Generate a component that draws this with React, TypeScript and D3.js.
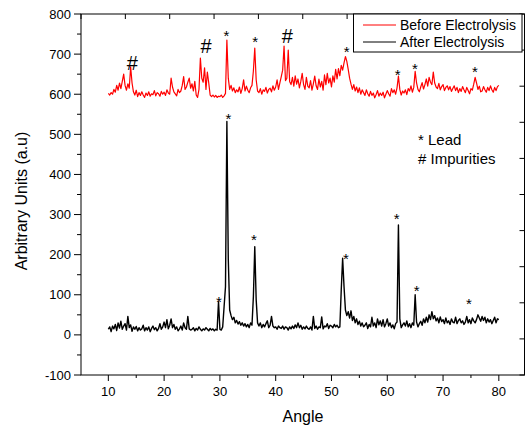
import React from "react";
import * as d3 from "d3";

// ---- data (angle grid: 10 to 80 in 0.25 degree steps) ----
const angleStart = 10;
const angleStep = 0.25;

const beforeElectrolysis: number[] = [
  602, 598, 604, 600, 612, 605, 622, 610, 628, 614, 632, 650, 622, 610, 626, 615,
  668, 628, 606, 598, 610, 594, 604, 597, 606, 598, 592, 603, 597, 606, 595, 601,
  599, 609, 596, 604, 601, 595, 607, 600, 605, 597, 611, 603, 600, 640, 618, 606,
  601, 596, 612, 604, 608, 622, 644, 612, 618, 630, 640, 615, 626, 608, 632, 598,
  592, 612, 690, 640, 630, 666, 612, 655, 628, 598, 594, 598, 593, 597, 592, 595,
  594, 598, 592, 596, 602, 735, 640, 612, 622, 608, 616, 604, 611, 606, 618, 602,
  614, 636, 608, 620, 610, 604, 616, 622, 658, 715, 636, 608, 604, 614, 600, 611,
  607, 617, 603, 612, 615, 606, 621, 610, 618, 636, 612, 628, 644, 660, 720, 634,
  640, 710, 632, 624, 642, 620, 646, 625, 638, 616, 632, 652, 624, 612, 642, 620,
  616, 634, 610, 626, 645, 621, 612, 638, 618, 632, 610, 648, 624, 652, 628, 640,
  618, 646, 630, 662, 638, 664, 646, 672, 660, 678, 694, 682, 662, 640, 625, 612,
  624, 608, 618, 604, 616, 600, 611, 604, 597, 611, 601, 595, 607, 597, 603, 591,
  599, 609, 595, 603, 597, 605, 591, 600, 609, 601, 595, 614, 604, 611, 600, 616,
  645, 612, 598, 608, 603, 611, 599, 614, 608, 621, 605, 617, 657, 628, 612, 606,
  618, 629, 613, 624, 638, 620, 642, 630, 624, 655, 628, 618, 614, 627, 611, 619,
  624, 609, 617, 621, 611, 619, 607, 614, 621, 609, 617, 604, 614, 607, 619, 611,
  604, 617, 609, 601, 614, 610, 625, 642, 628, 612, 620, 606, 608, 619, 611, 605,
  617, 609, 621, 611, 605, 617, 609, 619, 622,
];

const afterElectrolysis: number[] = [
  14, 20, 8, 22, 15, 26, 11, 30, 17, 34, 14, 22, 28, 12, 46, 18,
  25, 9, 20, 14, 21, 10, 18, 12, 15, 24, 10, 18, 12, 20, 8, 16,
  22, 13, 18, 10, 16, 28, 14, 20, 32, 18, 38, 15, 24, 40, 18, 26,
  14, 20, 10, 15, 22, 12, 30, 18, 14, 46, 15, 12, 14, 18, 10, 16,
  12, 20, 14, 10, 15, 12, 18, 14, 10, 16, 12, 15, 10, 14, 12, 83,
  14, 12, 20, 70, 120, 532, 190, 62, 48, 38, 44, 30, 36, 27, 33, 24,
  30, 22, 28, 20, 26, 18, 30, 24, 95, 220, 88, 30, 22, 30, 18, 26,
  20, 28, 35, 18, 24, 46, 22, 18, 20, 14, 22, 18, 16, 22, 14, 20,
  18, 12, 20, 15, 22, 16, 25, 18, 30, 18, 24, 14, 20, 15, 22, 16,
  14, 20, 12, 46, 16, 22, 14, 20, 18, 45, 15, 22, 20, 28, 16, 24,
  22, 18, 26, 20, 24, 18, 20, 112, 191, 120, 62, 48, 58, 42, 60, 36,
  46, 30, 40, 26, 34, 22, 30, 20, 24, 30, 16, 26, 20, 44, 22, 30,
  18, 40, 25, 35, 22, 38, 20, 28, 40, 22, 30, 18, 25, 15, 28, 32,
  274, 40, 18, 25, 30, 22, 35, 20, 28, 18, 30, 24, 100, 32, 20, 28,
  34, 24, 40, 30, 44, 32, 50, 38, 58, 40, 48, 35, 42, 30, 45, 33,
  38, 28, 42, 30, 35, 26, 40, 32, 30, 44, 28, 36, 40, 30, 35, 26,
  32, 46, 30, 38, 28, 42, 35, 30, 38, 50, 42, 34, 46, 36, 44, 30,
  40, 32, 38, 28, 36, 44, 30, 40, 38,
];

// peak markers (glyph centre, in data units)
const markAngles: number[] = [14.3, 27.5, 31.15, 36.3, 42.08, 52.72, 61.86, 64.96, 75.72,
  29.84, 31.51, 36.11, 52.6, 61.68, 65.27, 74.64];
const markValues: number[] = [678, 719, 755, 738, 744, 713, 657, 672, 665,
  91, 546, 245, 199, 297, 118, 85];
const markSymbols: string[] = ["#", "#", "*", "*", "#", "*", "*", "*", "*",
  "*", "*", "*", "*", "*", "*", "*"];

const xTicks: number[] = [10, 20, 30, 40, 50, 60, 70, 80];
const xMinorTicks: number[] = [15, 25, 35, 45, 55, 65, 75];
const yTicks: number[] = [-100, 0, 100, 200, 300, 400, 500, 600, 700, 800];
const yMinorTicks: number[] = [-50, 50, 150, 250, 350, 450, 550, 650, 750];
const seriesNames: string[] = ["Before Electrolysis", "After Electrolysis"];
const seriesColors: string[] = ["#ff0000", "#000000"];
const keyLines: string[] = ["* Lead", "# Impurities"];

const W = 526;
const H = 432;
const left = 81;
const right = 524.5;
const top = 14;
const bottom = 375;
const FONT = "'Liberation Sans', Arial, sans-serif";

export default function App() {
  const x = d3.scaleLinear().domain([5.1, 84.6]).range([left, right]);
  const y = d3.scaleLinear().domain([-100, 800]).range([bottom, top]);
  const xTop = d3.scaleLinear().domain([0, 10]).range([left, right]);
  const yRight = d3.scaleLinear().domain([0, 10]).range([bottom, top]);

  const angles = beforeElectrolysis.map((_, i) => angleStart + i * angleStep);
  const line = d3
    .line<number>()
    .x((_, i) => x(angles[i]))
    .y((d) => y(d));

  const series = [beforeElectrolysis, afterElectrolysis];

  return (
    <svg
      width={W}
      height={H}
      style={{ position: "absolute", left: 0, top: 0, background: "#fff" }}
      fontFamily={FONT}
    >
      <rect x={0} y={0} width={W} height={H} fill="#fff" />

      {/* series */}
      {series.map((s, k) => (
        <path
          key={k}
          d={line(s) || ""}
          fill="none"
          stroke={seriesColors[k]}
          strokeWidth={k === 0 ? 1.2 : 1.4}
          strokeLinejoin="round"
        />
      ))}

      {/* frame */}
      <rect
        x={left}
        y={top}
        width={right - left}
        height={bottom - top}
        fill="none"
        stroke="#000"
        strokeWidth={1}
      />

      {/* left axis */}
      {yTicks.map((t) => (
        <g key={"y" + t}>
          <line x1={left - 7} x2={left} y1={y(t)} y2={y(t)} stroke="#000" />
          <text
            x={left - 10}
            y={y(t)}
            fontSize={13}
            textAnchor="end"
            dominantBaseline="central"
            fill="#000"
          >
            {t}
          </text>
        </g>
      ))}
      {yMinorTicks.map((t) => (
        <line key={"ym" + t} x1={left - 4} x2={left} y1={y(t)} y2={y(t)} stroke="#000" />
      ))}

      {/* bottom axis */}
      {xTicks.map((t) => (
        <g key={"x" + t}>
          <line x1={x(t)} x2={x(t)} y1={bottom} y2={bottom + 6} stroke="#000" />
          <text x={x(t)} y={bottom + 21} fontSize={13} textAnchor="middle" fill="#000">
            {t}
          </text>
        </g>
      ))}
      {xMinorTicks.map((t) => (
        <line key={"xm" + t} x1={x(t)} x2={x(t)} y1={bottom} y2={bottom + 3} stroke="#000" />
      ))}

      {/* top & right axes (unlabelled layer) */}
      {xTop.ticks(10).map((t) => (
        <line key={"xt" + t} x1={xTop(t)} x2={xTop(t)} y1={top} y2={top + 5} stroke="#000" />
      ))}
      {yRight.ticks(10).map((t) => (
        <line key={"yr" + t} x1={right - 5} x2={right} y1={yRight(t)} y2={yRight(t)} stroke="#000" />
      ))}

      {/* axis titles */}
      <text x={303} y={422} fontSize={16} textAnchor="middle" fill="#000">
        Angle
      </text>
      <text
        transform={`translate(27,${201}) rotate(-90)`}
        fontSize={16}
        textAnchor="middle"
        fill="#000"
      >
        Arbitrary Units (a.u)
      </text>

      {/* peak markers */}
      {markSymbols.map((s, i) => (
        <text
          key={"m" + i}
          x={x(markAngles[i])}
          y={y(markValues[i]) + (s === "#" ? 7 : 8.5)}
          fontSize={s === "#" ? 20 : 15}
          textAnchor="middle"
          fill="#000"
        >
          {s}
        </text>
      ))}

      {/* key text */}
      {keyLines.map((t, i) => (
        <text key={"k" + i} x={418} y={145 + i * 19} fontSize={15} fill="#000">
          {t}
        </text>
      ))}

      {/* legend */}
      <rect x={353.5} y={top} width={168.5} height={38} fill="#fff" stroke="#000" strokeWidth={1} />
      {seriesNames.map((n, i) => (
        <g key={"l" + i}>
          <line x1={363} x2={396} y1={25 + i * 17} y2={25 + i * 17} stroke={seriesColors[i]} strokeWidth={1} />
          <text x={400} y={25 + i * 17} fontSize={14} dominantBaseline="central" fill="#000">
            {n}
          </text>
        </g>
      ))}
    </svg>
  );
}
